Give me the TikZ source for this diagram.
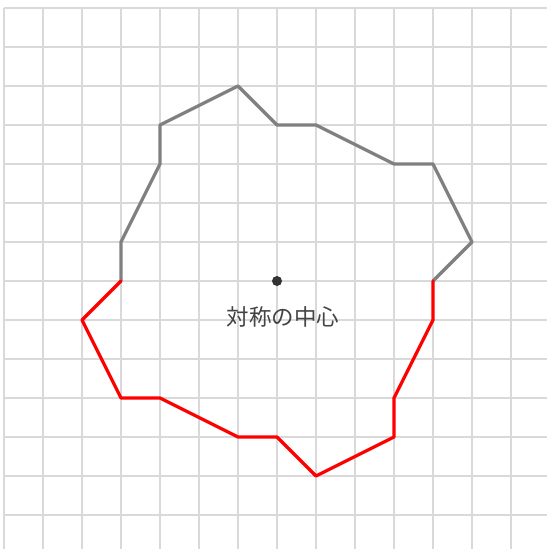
\documentclass[tikz,border=0pt]{standalone}
\usepackage{fontspec}
\newfontfamily\jpfont{Noto Sans CJK JP}
\definecolor{gridc}{HTML}{D9D9D9}
\definecolor{grayline}{HTML}{808080}
\definecolor{redline}{HTML}{FF0000}
\definecolor{dotc}{HTML}{333333}
\definecolor{labc}{HTML}{444444}
\begin{document}
\begin{tikzpicture}[x=1pt,y=-1pt,
  gridline/.style={draw=gridc,line width=1.5pt},
  halfgray/.style={draw=grayline,line width=3.3pt,line join=round,line cap=round},
  halfred/.style={draw=redline,line width=3.3pt,line join=round,line cap=round}]
\useasboundingbox (0,0) rectangle (547,549);
\fill[white] (0,0) rectangle (547,549);
% grid
\foreach \i in {0,...,13} {
  \draw[gridline] ({4+39*\i},8) -- ({4+39*\i},549);
  \draw[gridline] (4,{8+39*\i}) -- (547,{8+39*\i});
}
\begin{scope}[shift={(277,281)},x=39pt,y=39pt]
\draw[halfgray] (-4,0) -- (-4,1) -- (-3,3) -- (-3,4) -- (-1,5) -- (0,4) -- (1,4) -- (3,3) -- (4,3) -- (5,1) -- (4,0);
\draw[halfred] (-4,0) -- (-5,-1) -- (-4,-3) -- (-3,-3) -- (-1,-4) -- (0,-4) -- (1,-5) -- (3,-4) -- (3,-3) -- (4,-1) -- (4,0);
\fill[dotc] (0,0) circle[radius=5pt];
\node[text=labc,font=\jpfont\fontsize{22.5}{26}\selectfont] (lab) at (0.16,-0.93) {対称の中心};
\end{scope}
\end{tikzpicture}
\end{document}
